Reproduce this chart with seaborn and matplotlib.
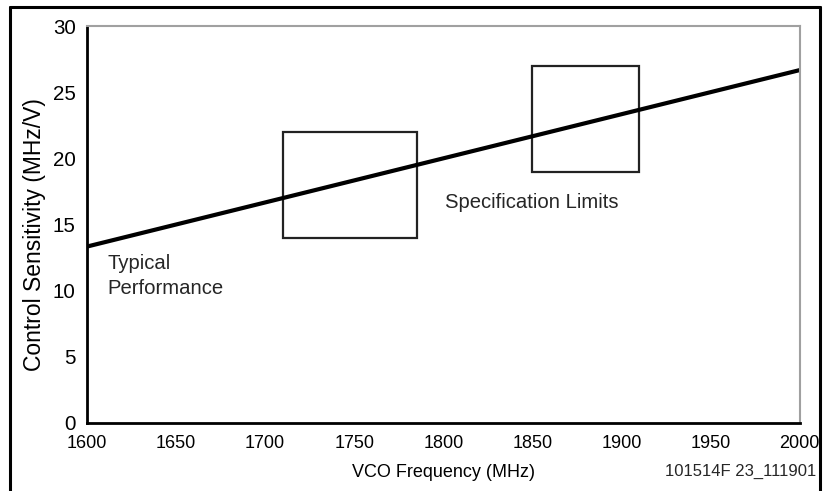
import numpy as np
import pandas as pd
import seaborn as sns
import matplotlib.pyplot as plt
from matplotlib.patches import Rectangle
from matplotlib.lines import Line2D

sns.set_theme(style="white")
plt.rcParams['font.family'] = ['Liberation Sans', 'DejaVu Sans']

# typical performance curve
freq = [1600, 2000]
sens = [13.33, 26.67]

# specification limit boxes: (f_lo, f_hi, s_lo, s_hi)
spec_f_lo = [1710, 1850]
spec_f_hi = [1785, 1910]
spec_s_lo = [14, 19]
spec_s_hi = [22, 27]

xticks = [1600, 1650, 1700, 1750, 1800, 1850, 1900, 1950, 2000]
yticks = [0, 5, 10, 15, 20, 25, 30]

df = pd.DataFrame({"freq": freq, "sens": sens})

fig = plt.figure(figsize=(8.27, 4.91), dpi=100)
ax = fig.add_axes([0.105, 0.1385, 0.862, 0.8085])

sns.lineplot(data=df, x="freq", y="sens", ax=ax, color="black", lw=3)

for f0, f1, s0, s1 in zip(spec_f_lo, spec_f_hi, spec_s_lo, spec_s_hi):
    ax.add_patch(Rectangle((f0, s0), f1 - f0, s1 - s0, fill=False,
                           edgecolor="#222222", lw=1.6))

ax.set_xlim(1600, 2000)
ax.set_ylim(0, 30)
ax.set_xticks(xticks)
ax.set_yticks(yticks)
ax.tick_params(axis="x", direction="in", length=6, width=1.3, colors="black",
               labelsize=13, pad=9)
ax.tick_params(axis="y", direction="out", length=6, width=1.3, colors="black",
               labelsize=14.8, pad=2)

for s in ["left", "bottom"]:
    ax.spines[s].set_color("black")
    ax.spines[s].set_linewidth(2)
for s in ["top", "right"]:
    ax.spines[s].set_color("#a0a0a0")
    ax.spines[s].set_linewidth(1.5)

ax.set_xlabel("VCO Frequency (MHz)", fontsize=13, color="black", labelpad=8)
ax.set_ylabel("Control Sensitivity (MHz/V)", fontsize=16.5, color="black")
ax.yaxis.set_label_coords(-0.057, 0.475)

ax.text(1801, 16.65, "Specification Limits", fontsize=14.6, va="center", ha="left")
ax.text(1611.5, 11.1, "Typical\nPerformance", fontsize=14.6, va="center", ha="left",
        linespacing=1.45)

fig.text(0.987, 0.039, "101514F 23_111901", fontsize=12, ha="right", va="center")

# frame around the figure
for xs, ys in [([0.0115, 0.0115], [-0.01, 0.9857]),
               ([0.0115, 0.9915], [0.9857, 0.9857]),
               ([0.9915, 0.9915], [0.9857, -0.01])]:
    fig.add_artist(Line2D(xs, ys, color="black", lw=2.2))

fig.savefig("out.png", dpi=100)
